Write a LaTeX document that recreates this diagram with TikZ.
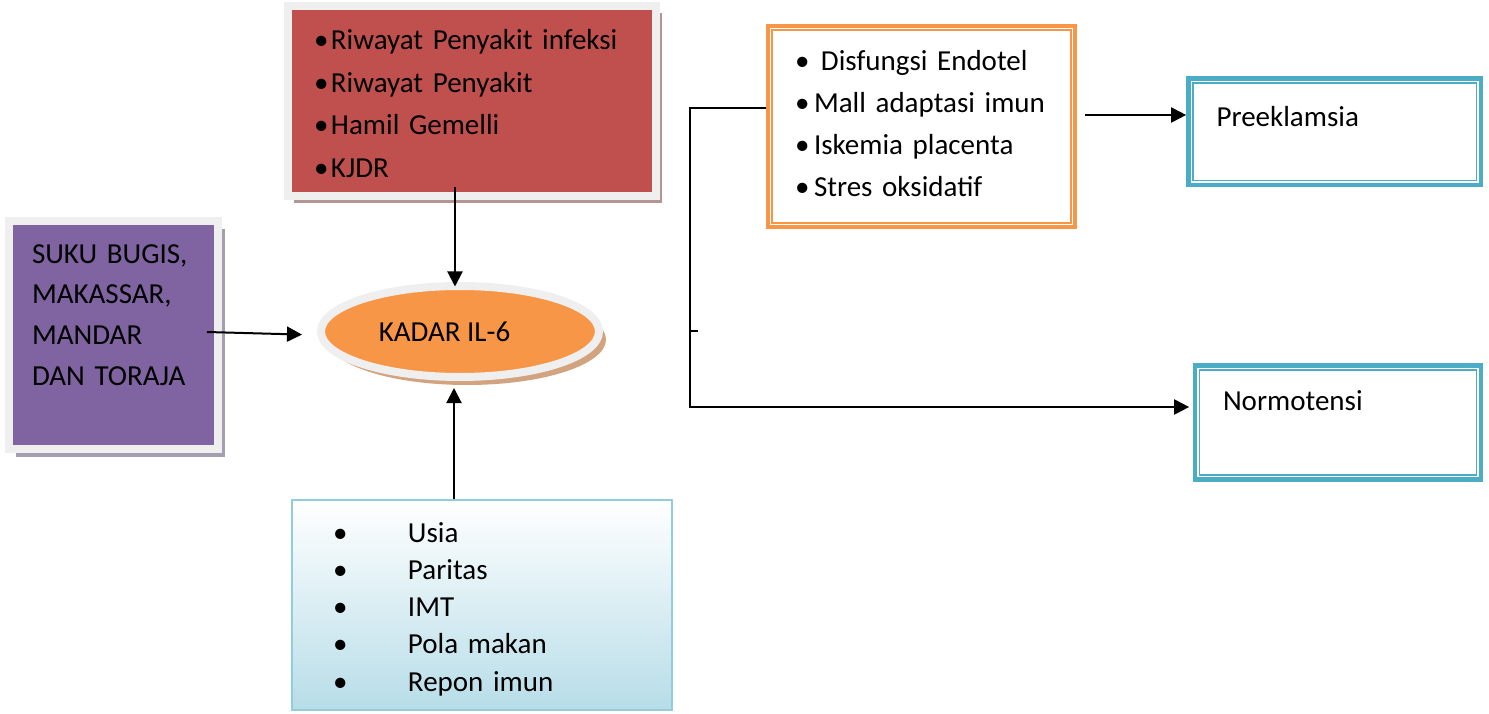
\documentclass[tikz,border=0pt]{standalone}
\usepackage{fontspec}
\setmainfont{Carlito}
\usepackage{tikz}
\usetikzlibrary{arrows.meta,shapes,positioning,calc,shadows}
\usepackage{xcolor}
\definecolor{boxred}{HTML}{C0504D}
\definecolor{boxpurple}{HTML}{8064A2}
\definecolor{boxorange}{HTML}{F79646}
\definecolor{boxblue}{HTML}{4BACC6}
\definecolor{framegrey}{HTML}{EFEFEF}
\definecolor{shred}{HTML}{B39594}
\definecolor{shpurple}{HTML}{A59EB3}
\definecolor{shorange}{HTML}{D2A37F}
\definecolor{gradblue}{HTML}{B7DDE8}
\definecolor{gradline}{HTML}{92CDDC}
\newcommand{\itembul}[1][17pt]{\makebox[#1][l]{\textbullet}}

\begin{document}
\begin{tikzpicture}[x=1pt, y=-1pt,
    every node/.style={font=\fontsize{29}{42.8}\selectfont, text=black},
    link/.style={line width=2pt, -{Triangle[length=15pt,width=15pt]}},
    framed/.style={draw=framegrey, line width=8pt, align=left, inner ysep=0pt},
    outcome/.style={draw=boxblue, line width=4.7pt, fill=white, align=left, inner ysep=0pt,
        text height=22pt},
    innerline/.style={draw=#1, line width=1.2pt}
]
    \useasboundingbox (0,0) rectangle (1489,714);

    % Risk factor boxes
    \node[framed, fill=boxred, minimum width=368pt, minimum height=190pt,
        inner xsep=26pt, text width=316pt, text height=32pt, text depth=135.4pt,
        drop shadow={shadow xshift=6pt, shadow yshift=-7pt, fill=shred, opacity=1}]
        (riwayat) at (472,101)
        {\itembul Riwayat Penyakit infeksi\\ \itembul Riwayat Penyakit\\
         \itembul Hamil Gemelli\\ \itembul KJDR};

    \node[framed, fill=boxpurple, minimum width=209pt, minimum height=228pt,
        inner xsep=23pt, text width=163pt,
        font=\fontsize{29}{40.7}\selectfont,
        drop shadow={shadow xshift=7pt, shadow yshift=-8pt, fill=shpurple, opacity=1}]
        (suku) at (113.5,335)
        {SUKU BUGIS,\\ MAKASSAR,\\ MANDAR\\ DAN TORAJA\\ \mbox{}};

    % IL-6 level
    \node[ellipse, draw=framegrey, line width=8pt, fill=boxorange,
        minimum width=278pt, minimum height=91pt, inner sep=0pt,
        drop shadow={shadow xshift=7pt, shadow yshift=-8pt, fill=shorange, opacity=1}]
        (kadar) at (460,331.5) {KADAR IL-6\hspace*{31pt}};

    % Host factors
    \node[draw=gradline, line width=1.5pt, top color=white, bottom color=gradblue,
        minimum width=380pt, minimum height=210pt, inner xsep=41pt, inner ysep=0pt,
        text width=298pt, align=left, font=\fontsize{29}{37.25}\selectfont,
        text height=30.4pt, text depth=156pt]
        (inang) at (482,605)
        {\itembul[75pt]Usia\\ \itembul[75pt]Paritas\\ \itembul[75pt]IMT\\
         \itembul[75pt]Pola makan\\ \itembul[75pt]Repon imun};

    % Mechanism box
    \node[draw=boxorange, line width=4pt, fill=white, minimum width=307pt,
        minimum height=201pt, inner xsep=27pt, inner ysep=0pt, text width=253pt,
        align=left, font=\fontsize{29}{41.67}\selectfont,
        text height=21pt, text depth=132pt]
        (mekanisme) at (921.5,126.5)
        {\itembul[19pt]\hspace{7pt}Disfungsi Endotel\\ \itembul[19pt]Mall adaptasi imun\\
         \itembul[19pt]Iskemia placenta\\ \itembul[19pt]Stres oksidatif};
    \draw[innerline=boxorange, line width=2pt]
        ($(mekanisme.north west)+(6.3,6.3)$) rectangle ($(mekanisme.south east)+(-6.3,-6.3)$);

    % Outcomes
    \node[outcome, minimum width=292.5pt, minimum height=106.5pt, inner xsep=28pt,
        text width=236.5pt, text depth=33.4pt] (pre) at (1334.75,131.75) {Preeklamsia};
    \draw[innerline=boxblue]
        ($(pre.north west)+(6.9,6.9)$) rectangle ($(pre.south east)+(-6.9,-6.9)$);

    \node[outcome, minimum width=286pt, minimum height=114pt, inner xsep=28pt,
        text width=230pt, text depth=45.4pt] (normo) at (1338,422.5) {Normotensi};
    \draw[innerline=boxblue]
        ($(normo.north west)+(6.9,6.9)$) rectangle ($(normo.south east)+(-6.9,-6.9)$);

    % Arrows into KADAR IL-6
    \coordinate (riwayatfoot) at ([xshift=-17pt, yshift=13pt]riwayat.south);
    \draw[link, shorten >=-4.5pt] (riwayatfoot) -- (riwayatfoot |- kadar.north);
    \draw[link, shorten >=15pt] ([xshift=-15pt, yshift=3pt]suku.east)
        -- ([yshift=-3.5pt]kadar.west);
    \coordinate (inangtop) at ([xshift=-28pt]inang.north);
    \draw[link, shorten >=7pt] (inangtop) -- (inangtop |- kadar.south);

    % Branch to outcomes
    \coordinate (trunk) at (690,407);
    \coordinate (tick) at (690,331);
    \draw[link, shorten >=3.5pt] ([yshift=18.5pt]mekanisme.west) -| (trunk)
        -- (trunk -| normo.west);
    \draw[line width=2pt] (tick) -- ++(8,0);
    \coordinate (prein) at (1085,115);
    \draw[link] (prein) -- (prein -| pre.west);
\end{tikzpicture}
\end{document}
